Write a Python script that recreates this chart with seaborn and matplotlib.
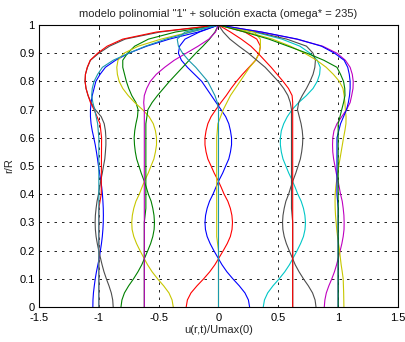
import numpy as np
import pandas as pd
import matplotlib
matplotlib.use("Agg")
import matplotlib.pyplot as plt
import seaborn as sns

# radial stations r/R of the exact-solution profiles
r_exact = [0.0, 0.025, 0.05, 0.075, 0.1, 0.125, 0.15, 0.175, 0.2, 0.225, 0.25, 0.275,
           0.3, 0.325, 0.35, 0.375, 0.4, 0.425, 0.45, 0.475, 0.5, 0.525, 0.55, 0.575,
           0.6, 0.625, 0.65, 0.675, 0.7, 0.725, 0.75, 0.775, 0.8, 0.825, 0.85, 0.875,
           0.9, 0.925, 0.95, 0.975, 1.0]
# radial stations r/R of the polynomial-model profiles
r_poly = [0.0, 0.2, 0.25, 0.3, 0.35, 0.4, 0.6, 0.65, 0.7, 0.725, 0.75, 0.775, 0.8,
          0.825, 0.85, 0.875, 0.9, 0.925, 0.95, 0.975, 1.0]

# exact solution, instants around u = -1
exact_a1 = [-1.05, -1.049, -1.045, -1.038, -1.03, -1.02, -1.008, -0.996, -0.987, -0.978, -0.971, -0.966,
            -0.963, -0.962, -0.963, -0.966, -0.97, -0.976, -0.984, -0.994, -1.003, -1.011, -1.02, -1.03,
            -1.042, -1.055, -1.065, -1.07, -1.07, -1.065, -1.055, -1.04, -1.025, -0.99, -0.945, -0.86,
            -0.75, -0.6, -0.41, -0.17, 0.0]
exact_a2 = [-0.88, -0.884, -0.896, -0.915, -0.937, -0.957, -0.973, -0.987, -1.001, -1.013, -1.023, -1.029,
            -1.031, -1.029, -1.023, -1.015, -1.003, -0.993, -0.983, -0.971, -0.961, -0.95, -0.945, -0.941,
            -0.941, -0.945, -0.955, -0.98, -1.03, -1.065, -1.09, -1.107, -1.115, -1.112, -1.095, -1.07,
            -1.0, -0.91, -0.78, -0.49, 0.0]
# instants around u = -0.6
exact_b1 = [-0.815, -0.807, -0.786, -0.751, -0.71, -0.673, -0.641, -0.616, -0.591, -0.567, -0.549, -0.538,
            -0.535, -0.539, -0.549, -0.563, -0.586, -0.604, -0.624, -0.646, -0.665, -0.684, -0.695, -0.702,
            -0.705, -0.7, -0.69, -0.677, -0.672, -0.69, -0.725, -0.75, -0.77, -0.785, -0.8, -0.8,
            -0.76, -0.7, -0.585, -0.36, 0.0]
exact_b2 = [-0.378, -0.388, -0.414, -0.458, -0.509, -0.555, -0.593, -0.625, -0.656, -0.685, -0.708, -0.722,
            -0.725, -0.72, -0.708, -0.69, -0.662, -0.639, -0.615, -0.587, -0.564, -0.54, -0.527, -0.518,
            -0.518, -0.527, -0.545, -0.58, -0.635, -0.7, -0.755, -0.8, -0.83, -0.845, -0.85, -0.84,
            -0.79, -0.67, -0.48, -0.24, 0.0]
# instants around u = 0
exact_c1 = [-0.27, -0.26, -0.23, -0.18, -0.124, -0.073, -0.03, 0.005, 0.04, 0.073, 0.099, 0.113,
            0.117, 0.112, 0.099, 0.078, 0.047, 0.022, -0.005, -0.036, -0.062, -0.089, -0.104, -0.113,
            -0.113, -0.104, -0.089, -0.062, -0.022, 0.02, 0.065, 0.105, 0.15, 0.2, 0.255, 0.31,
            0.34, 0.35, 0.32, 0.22, 0.0]
exact_c2 = [0.26, 0.25, 0.221, 0.174, 0.12, 0.07, 0.029, -0.005, -0.039, -0.07, -0.095, -0.109,
            -0.113, -0.108, -0.095, -0.075, -0.046, -0.021, 0.005, 0.035, 0.06, 0.086, 0.1, 0.109,
            0.109, 0.1, 0.086, 0.06, 0.021, -0.02, -0.06, -0.1, -0.14, -0.2, -0.26, -0.31,
            -0.335, -0.325, -0.28, -0.16, 0.0]
# instants around u = 0.62
exact_d1 = [0.374, 0.384, 0.411, 0.455, 0.507, 0.554, 0.593, 0.625, 0.657, 0.686, 0.71, 0.723,
            0.727, 0.722, 0.71, 0.691, 0.663, 0.64, 0.615, 0.587, 0.563, 0.539, 0.525, 0.517,
            0.517, 0.525, 0.545, 0.575, 0.615, 0.67, 0.735, 0.79, 0.825, 0.845, 0.85, 0.825,
            0.765, 0.68, 0.53, 0.3, 0.0]
exact_d2 = [0.815, 0.807, 0.786, 0.751, 0.71, 0.673, 0.641, 0.616, 0.591, 0.567, 0.549, 0.538,
            0.535, 0.539, 0.549, 0.563, 0.586, 0.604, 0.624, 0.646, 0.665, 0.684, 0.695, 0.702,
            0.705, 0.7, 0.69, 0.675, 0.66, 0.67, 0.7, 0.735, 0.765, 0.79, 0.805, 0.81,
            0.79, 0.735, 0.57, 0.32, 0.0]
# instants around u = 1
exact_e1 = [0.884, 0.889, 0.901, 0.922, 0.947, 0.969, 0.987, 1.002, 1.017, 1.031, 1.042, 1.049,
            1.05, 1.048, 1.042, 1.034, 1.02, 1.009, 0.998, 0.984, 0.973, 0.962, 0.955, 0.953,
            0.955, 0.965, 0.99, 1.03, 1.07, 1.1, 1.113, 1.124, 1.126, 1.118, 1.1, 1.06,
            0.99, 0.87, 0.65, 0.36, 0.0]
exact_e2 = [1.048, 1.047, 1.046, 1.044, 1.042, 1.034, 1.025, 1.018, 1.012, 1.003, 0.995, 0.988,
            0.983, 0.978, 0.975, 0.974, 0.975, 0.98, 0.988, 0.996, 1.005, 1.015, 1.025, 1.035,
            1.045, 1.056, 1.065, 1.066, 1.06, 1.056, 1.05, 1.04, 1.01, 0.96, 0.9, 0.82,
            0.72, 0.6, 0.45, 0.24, 0.0]

# polynomial model "1", same instants
poly_a1 = [-1.0, -1.0, -1.0, -1.0, -1.0, -0.98, -0.977, -0.99, -1.04, -1.07, -1.09, -1.107, -1.115,
           -1.112, -1.097, -1.072, -1.01, -0.93, -0.8, -0.52, 0.0]
poly_a2 = [-1.0, -1.0, -1.0, -1.0, -1.0, -1.0, -1.0, -1.01, -1.035, -1.05, -1.06, -1.055, -1.04,
           -1.01, -0.97, -0.88, -0.75, -0.61, -0.44, -0.23, 0.0]
poly_b1 = [-0.62, -0.62, -0.62, -0.62, -0.607, -0.607, -0.607, -0.607, -0.59, -0.555, -0.51, -0.46, -0.41,
           -0.355, -0.3, -0.245, -0.19, -0.13, -0.075, -0.03, 0.0]
poly_b2 = [-0.62, -0.62, -0.62, -0.62, -0.62, -0.62, -0.62, -0.62, -0.62, -0.625, -0.62, -0.6, -0.57,
           -0.52, -0.45, -0.37, -0.27, -0.17, -0.08, -0.025, 0.0]
poly_c1 = [0.0, 0.0, -0.015, -0.015, -0.015, -0.015, -0.015, -0.005, 0.04, 0.07, 0.1, 0.14, 0.18,
           0.22, 0.26, 0.31, 0.34, 0.35, 0.35, 0.3, 0.0]
poly_c2 = [0.0, 0.0, 0.0, 0.0, 0.0, 0.0, 0.0, 0.0, 0.0, -0.01, -0.03, -0.06, -0.09,
           -0.14, -0.19, -0.25, -0.3, -0.335, -0.345, -0.28, 0.0]
poly_d1 = [0.62, 0.62, 0.62, 0.62, 0.61, 0.61, 0.61, 0.61, 0.61, 0.6, 0.58, 0.545, 0.5,
           0.445, 0.39, 0.32, 0.25, 0.17, 0.095, 0.04, 0.0]
poly_d2 = [0.62, 0.62, 0.62, 0.62, 0.62, 0.62, 0.62, 0.62, 0.62, 0.62, 0.615, 0.585, 0.54,
           0.49, 0.44, 0.385, 0.33, 0.27, 0.19, 0.1, 0.0]
poly_e1 = [1.0, 1.0, 1.0, 1.0, 1.0, 0.99, 0.99, 1.02, 1.07, 1.085, 1.095, 1.1, 1.1,
           1.093, 1.08, 1.05, 0.97, 0.86, 0.66, 0.36, 0.0]
poly_e2 = [1.0, 1.0, 1.0, 1.0, 1.0, 1.0, 1.0, 1.0, 1.03, 1.045, 1.057, 1.055, 1.045,
           1.02, 0.99, 0.88, 0.74, 0.58, 0.42, 0.22, 0.0]

x_ticks = [-1.5, -1, -0.5, 0, 0.5, 1, 1.5]
x_tick_labels = ["-1.5", "-1", "-0.5", "0", "0.5", "1", "1.5"]
y_ticks = [0, 0.1, 0.2, 0.3, 0.4, 0.5, 0.6, 0.7, 0.8, 0.9, 1.0]
y_tick_labels = ["0", "0.1", "0.2", "0.3", "0.4", "0.5", "0.6", "0.7", "0.8", "0.9", "1"]

BLUE = (0.0, 0.0, 1.0)
GREEN = (0.0, 0.5, 0.0)
RED = (1.0, 0.0, 0.0)
CYAN = (0.0, 0.78, 0.78)
TEAL = (0.1, 0.6, 0.68)
MAGENTA = (0.75, 0.0, 0.75)
YELLOW = (0.78, 0.78, 0.0)
GRAY = (0.3, 0.3, 0.3)

profiles = [
    (r_exact, exact_a1, BLUE), (r_exact, exact_a2, GRAY),
    (r_exact, exact_b1, GREEN), (r_exact, exact_b2, YELLOW),
    (r_exact, exact_c1, RED), (r_exact, exact_c2, BLUE),
    (r_exact, exact_d1, CYAN), (r_exact, exact_d2, GRAY),
    (r_exact, exact_e1, MAGENTA), (r_exact, exact_e2, YELLOW),
    (r_poly, poly_a1, RED), (r_poly, poly_a2, TEAL),
    (r_poly, poly_b1, GREEN), (r_poly, poly_b2, MAGENTA),
    (r_poly, poly_c1, YELLOW), (r_poly, poly_c2, TEAL),
    (r_poly, poly_d1, GRAY), (r_poly, poly_d2, RED),
    (r_poly, poly_e1, BLUE), (r_poly, poly_e2, GREEN),
]

sns.set_theme(style="white")
plt.rcParams["font.family"] = ["Liberation Sans", "DejaVu Sans"]

fig = plt.figure(figsize=(4.05, 3.42), dpi=100)
ax = fig.add_axes([0.0963, 0.1023, 0.8864, 0.8246])

for r_vals, u_vals, col in profiles:
    df = pd.DataFrame({"u": u_vals, "r": r_vals})
    sns.lineplot(data=df, x="u", y="r", sort=False, estimator=None,
                 color=col, linewidth=0.8, ax=ax, legend=False)

ax.set_xlim(-1.5, 1.5)
ax.set_ylim(0, 1)
ax.set_xticks(x_ticks)
ax.set_xticklabels(x_tick_labels)
ax.set_yticks(y_ticks)
ax.set_yticklabels(y_tick_labels)
ax.tick_params(direction="in", length=3, width=0.6, labelsize=8, colors="black",
               top=True, right=True)
ax.tick_params(axis="x", pad=4)
ax.tick_params(axis="y", pad=3)
ax.grid(True, color="black", linestyle=(0, (3.0, 6.0)), linewidth=0.6)
for s in ax.spines.values():
    s.set_color("black")
    s.set_linewidth(0.8)

ax.set_title('modelo polinomial "1" + solución exacta (omega* = 235)', fontsize=8, pad=6)
ax.set_xlabel("u(r,t)/Umax(0)", fontsize=8, labelpad=2)
ax.set_ylabel("r/R", fontsize=8, labelpad=4)

fig.savefig("out.png", dpi=100, facecolor="white")
